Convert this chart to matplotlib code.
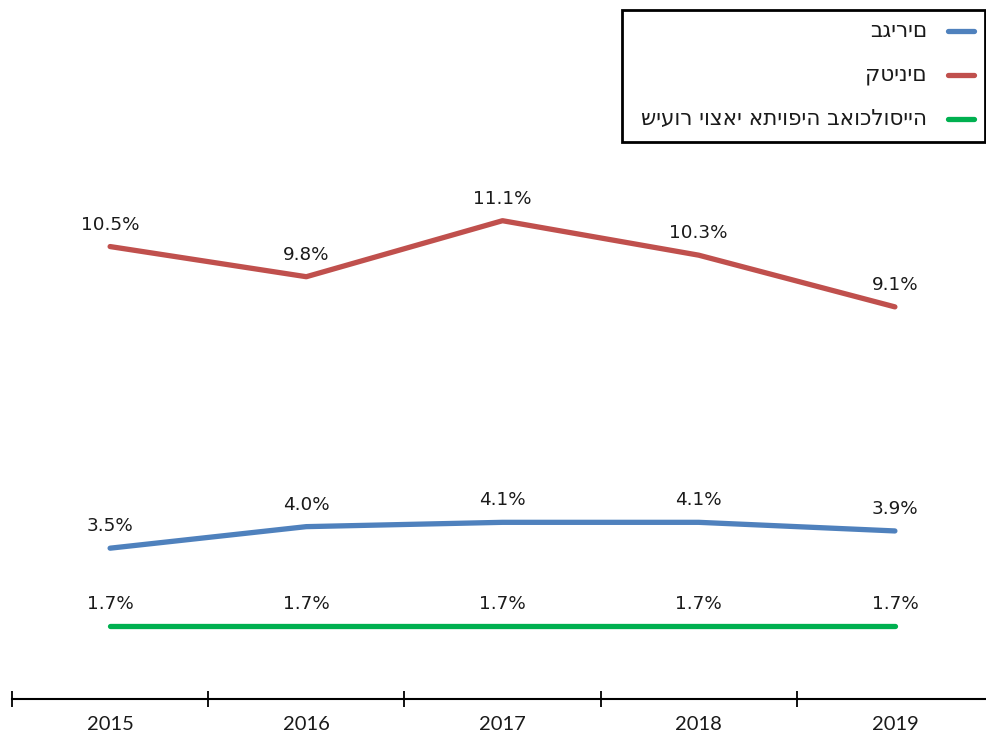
import matplotlib.pyplot as plt
from matplotlib.lines import Line2D
from matplotlib.patches import Rectangle

years = ["2015", "2016", "2017", "2018", "2019"]
adults = [3.5, 4.0, 4.1, 4.1, 3.9]
minors = [10.5, 9.8, 11.1, 10.3, 9.1]
population = [1.7, 1.7, 1.7, 1.7, 1.7]

series_names = ["בגירים", "קטינים", "שיעור יוצאי אתיופיה באוכלוסייה"]
colors = ["#4F81BD", "#C0504D", "#00B050"]

W, H = 987, 736
fig = plt.figure(figsize=(W / 100, H / 100), dpi=100)

# axes: x from -0.5 at px 12 to 4.5 at px 993, y=0 at px 699, 43.09 px per unit
y_top = 16
ax = fig.add_axes([12 / W, (H - 699) / H, 981 / W, y_top * 43.09 / H])
ax.set_xlim(-0.5, 4.5)
ax.set_ylim(0, y_top)

x = list(range(len(years)))
for vals, c in zip([adults, minors, population], colors):
    ax.plot(x, vals, color=c, lw=3.8, solid_capstyle="round", solid_joinstyle="round",
            clip_on=False)
    for xi, v in zip(x, vals):
        ax.annotate(f"{v:.1f}%", (xi, v), xytext=(0, 22), textcoords="offset pixels",
                    ha="center", va="center", fontsize=13.2, family="DejaVu Sans",
                    color="#1a1a1a")

for s in ["top", "left", "right"]:
    ax.spines[s].set_visible(False)
ax.spines["bottom"].set_linewidth(1.5)
ax.set_yticks([])
ax.set_xticks([i - 0.5 for i in range(len(years) + 1)])
ax.set_xticklabels([])
ax.tick_params(axis="x", which="major", direction="inout", length=11, width=1.3)
ax.set_xticks(x, minor=True)
ax.set_xticklabels(years, minor=True, fontsize=14.5, family="Lato", color="#1a1a1a")
ax.tick_params(axis="x", which="minor", length=0, pad=12)

# legend drawn by hand so the handles sit on the right
fig.patches.append(Rectangle((622 / W, 1 - 142 / H), 363 / W, 132 / H,
                             transform=fig.transFigure, fill=False,
                             edgecolor="black", linewidth=2))
for i, (name, c) in enumerate(zip(series_names, colors)):
    yy = 1 - (31 + 44 * i) / H
    fig.lines.append(Line2D([948 / W, 974 / W], [yy, yy], transform=fig.transFigure,
                            color=c, lw=3.8, solid_capstyle="round"))
    fig.text(927 / W, yy, name, ha="right", va="center", fontsize=15.5,
             family="DejaVu Sans", color="#1a1a1a")

fig.savefig("out.png", dpi=100)
